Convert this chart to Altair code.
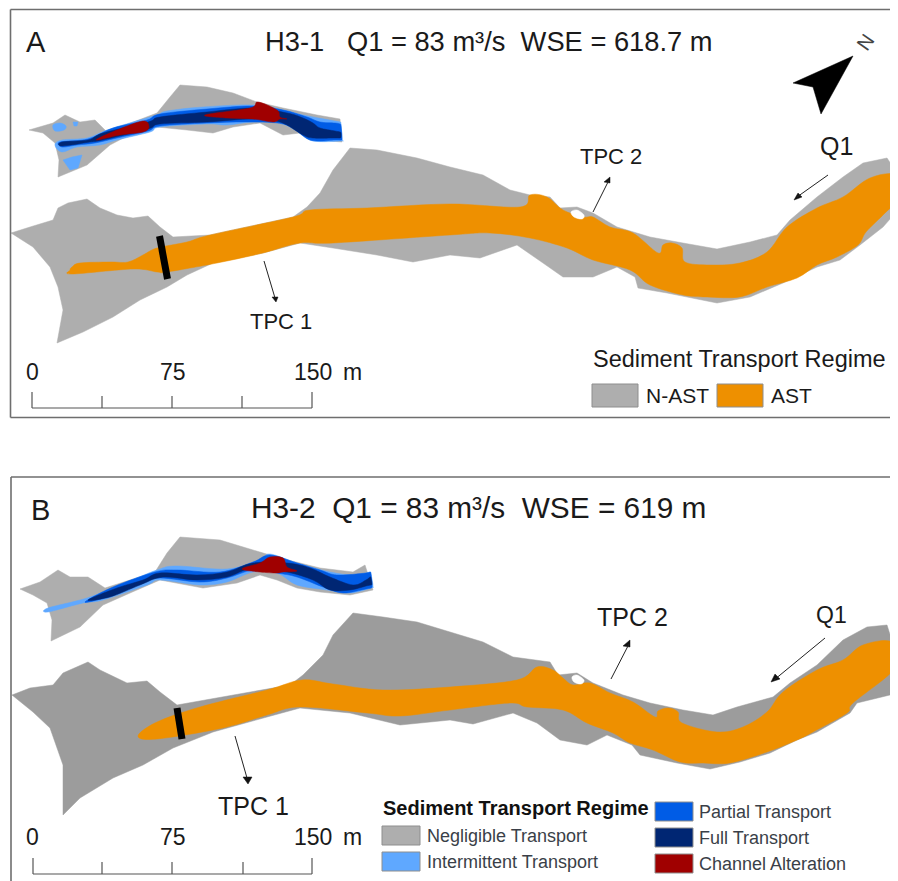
import altair as alt
import pandas as pd

GREY_A = "#aeaeae"; GREY_B = "#9c9c9c"; ORANGE = "#ee9000"
LIGHT = "#5fa8ff"; BLUE = "#005ce6"; NAVY = "#002673"; RED = "#a00000"

# ---------- Panel A, main reach ----------
a_grey_x = [11,30,53,58,68,87,100,117,133,148,160,173,210,293,307,320,333,350,377,417,450,483,510,530,550,560,577,593,617,650,683,717,750,777,790,817,843,863,887,897,898,883,860,840,817,783,750,717,667,638,635,617,593,563,543,517,480,450,413,377,333,300,263,213,187,167,140,113,83,57,63,58,50,33]
a_grey_y = [233,227,220,208,203,199,208,215,218,216,227,237,235,217,207,193,170,148,150,158,167,175,190,195,197,208,207,213,227,237,243,249,242,235,220,197,177,163,158,173,210,227,245,260,267,283,297,303,293,288,277,267,277,277,263,245,258,255,262,255,248,243,253,263,275,287,300,317,332,343,310,287,267,247]
a_orange_x = [70,72,80,110,128,143,157,187,210,293,310,367,450,520,530,547,563,583,593,610,633,658,663,672,682,685,710,740,767,787,817,843,870,897,898,883,866,858,837,817,797,767,740,707,683,650,630,593,567,530,490,450,333,300,263,217,167,157,133,72]
a_orange_y = [270,267,263,262,262,255,248,242,235,217,210,208,204,207,195,197,210,217,217,227,233,253,245,243,248,262,265,263,252,227,208,197,178,175,198,215,232,245,257,265,278,287,297,297,295,285,270,260,248,238,233,235,243,243,253,263,272,272,269,274]
a_hole_x = [571,577,584,582,574]
a_hole_y = [212,210,215,219,217]
a_bar = [159.5,236,167.5,279]

# ---------- Panel A, inset ----------
am_grey_x = [29,53,65,80,95,107,157,170,180,207,233,257,283,317,340,342,317,300,283,260,233,213,187,157,133,110,87,58,59,55,43]
am_grey_y = [130,123,115,122,120,132,113,97,85,87,93,102,108,115,119,142,140,133,135,123,127,133,130,127,133,145,165,177,160,143,133]
am_light_x = [55,62,87,107,133,157,167,203,253,283,303,335,340,341,342,341,313,300,280,253,227,207,160,150,117,100,77,62]
am_light_y = [145,140,138,130,122,115,111,107,105,110,115,121,122,124,139,141,141,133,123,122,125,124,127,132,140,145,147,152]
am_patch1_x = [53,60,66,64,55]
am_patch1_y = [125,123,126,130,131]
am_patch2_x = [63,72,82,78,70]
am_patch2_y = [160,157,155,168,170]
am_patch3_x = [73,78,77,74]
am_patch3_y = [122,122,126,126]
am_blue_x = [60,88,113,147,160,207,253,283,307,320,335,340,341,342,341,335,310,287,253,207,160,148,117,95,77,62]
am_blue_y = [142,139,128,120,114,109,106,110,117,122,123,124,126,138,140,140,140,125,122,123,126,131,138,143,145,147]
am_navy_x = [62,88,103,148,160,207,253,287,303,313,320,335,340,341,341,340,335,313,303,280,253,207,160,148,103,90,62]
am_navy_y = [142,140,133,122,117,112,108,113,118,123,128,131,132,133,137,138,138,138,135,122,119,122,124,129,140,142,146]
am_red1_x = [96,117,143,149,143,120]
am_red1_y = [140,130,121,127,132,135]
am_red2_x = [205,250,258,277,280,287,280,273,253,227]
am_red2_y = [115,108,102,110,117,119,119,122,119,118]

# ---------- Panel B, main reach ----------
b_grey_x = [12,30,53,63,88,100,127,147,160,177,290,303,323,333,353,383,417,450,483,513,550,558,577,593,623,650,683,713,737,773,790,817,843,867,887,897,898,857,850,817,797,770,740,710,677,640,632,607,587,560,537,513,473,450,400,350,300,267,213,173,143,113,80,63,63,50,33]
b_grey_y = [695,688,685,673,662,670,683,681,692,705,685,675,655,635,613,617,622,632,642,657,662,675,673,683,695,703,710,715,707,697,683,665,640,627,625,657,693,703,713,732,740,753,762,769,763,755,745,735,745,740,723,713,724,720,725,713,708,717,732,748,765,778,798,815,765,728,712]
b_orange_x = [138,157,200,267,302,333,383,450,517,537,553,563,573,590,610,633,655,658,668,678,682,717,743,767,783,817,843,863,892,896,853,847,813,797,767,730,703,680,653,630,613,587,563,527,510,450,400,367,300,267,223,157]
b_orange_y = [736,722,707,690,680,684,690,687,680,667,670,678,685,683,693,702,717,711,708,712,723,732,727,712,692,670,660,645,642,667,703,713,732,740,752,763,763,762,750,743,733,723,710,707,703,710,716,713,707,715,728,739]
b_hole_x = [572,577,584,581,574]
b_hole_y = [677,675,680,684,682]
b_bar = [177,708,182,739]

# ---------- Panel B, inset ----------
bm_grey_x = [20,40,58,70,88,105,155,167,180,220,253,280,320,353,365,373,350,320,297,277,260,237,203,160,130,103,80,51,52,47,33]
bm_grey_y = [589,582,570,577,577,588,572,553,537,540,550,558,568,572,565,590,595,592,588,580,575,583,588,580,593,605,627,641,620,603,595]
bm_light_x = [48,87,120,157,177,227,260,270,297,330,353,366,370,371,373,371,350,327,297,277,253,227,200,160,147,103,83,48]
bm_light_y = [608,598,585,570,566,569,560,554,563,572,575,573,572,574,586,588,593,590,585,573,572,582,585,580,585,600,603,612]
bm_blue_x = [85,113,155,177,220,253,270,297,320,337,366,370,371,372,371,366,343,323,297,277,253,227,200,160,143,107]
bm_blue_y = [602,587,572,570,572,562,555,563,570,575,573,572,574,586,588,589,593,587,577,573,570,578,582,578,583,597]
bm_navy_x = [88,117,143,160,197,227,253,287,310,330,353,366,370,371,372,371,366,350,330,313,287,253,227,197,163,140,110]
bm_navy_y = [600,588,580,573,575,572,563,563,568,577,585,580,577,578,584,585,586,590,590,580,572,568,577,580,577,585,597]
bm_red_x = [242,260,270,283,287,297,283,277,260]
bm_red_y = [569,563,557,558,567,571,572,573,572]

# ---------- North arrow and small arrowheads ----------
north_x = [853,793,813,821]
north_y = [56,83,87,114]
heads = [
    ([276,272,278],[302,297,297]),
    ([610,604,610],[177,182,183]),
    ([794,798,802],[200,193,197]),
    ([248,243,252],[784,777,777]),
    ([630,623,630],[640,646,647]),
    ([771,775,780],[682,674,679]),
]
arrow_x1 = [264,593,828,235,611,825]
arrow_y1 = [261,212,175,736,679,638]
arrow_x2 = [275,609,797,247,629,774]
arrow_y2 = [298,180,197,778,644,680]

# ---------- Frame lines ----------
frame_x1 = [10.5,10.5,10.5,11,11]
frame_y1 = [9.5,417.5,9.5,477,477]
frame_x2 = [898,898,10.5,898,11]
frame_y2 = [9.5,417.5,417.5,477,881]

# ---------- Scale bars ----------
bar_x1 = [32,32,102,172,242,312, 33,33,102,172,243,312]
bar_y1 = [408,392,396,396,396,392, 874,858,862,862,862,858]
bar_x2 = [312,32,102,172,242,312, 312,33,102,172,243,312]
bar_y2 = [408,408,408,408,408,408, 874,874,874,874,874,874]

# ---------- Legend swatches ----------
sw_x1 = [592,717, 382,382,655,655,655]
sw_x2 = [638,763, 420,420,693,693,693]
sw_y1 = [384,384, 826,852,802,828,854]
sw_y2 = [407,407, 845,871,821,847,873]
sw_col = [GREY_A,ORANGE,GREY_A,LIGHT,BLUE,NAVY,RED]

# ---------- Texts ----------
NB = "\u00a0"
t_text = ["A",f"H3-1{NB}{NB}{NB}Q1 = 83 m³/s{NB}{NB}WSE = 618.7 m","TPC 1","TPC 2","Q1","0","75","150","m",
          "Sediment Transport Regime","N-AST","AST",
          "B",f"H3-2{NB}{NB}Q1 = 83 m³/s{NB}{NB}WSE = 619 m","TPC 1","TPC 2","Q1","0","75","150","m"]
t_x = [26,265,250,580,820,26,160,294,343,593,646,771,31,251,218,597,816,26,160,294,343]
t_y = [52,51,329,164,155,380,380,380,380,367,403,403,520,518,815,626,623,845,845,845,845]
t_s = [29,27.3,22,22,25,23,23,23,23,23.5,21,21,29,29.8,25,25,23,23,23,23,23]
l_text = ["Negligible Transport","Intermittent Transport","Partial Transport","Full Transport","Channel Alteration"]
l_x = [427,427,699,699,699]
l_y = [842,868,818,844,870]
l_s = [18,18,18,18,18]

FONT = "Liberation Sans"
X = alt.X("x:Q", axis=None, scale=alt.Scale(domain=[8,890], nice=False, zero=False))
Y = alt.Y("y:Q", axis=None, scale=alt.Scale(domain=[881,8], nice=False, zero=False))

def poly(xs, ys, color, smooth=False):
    d = pd.DataFrame({"x": xs, "y": ys, "i": range(len(xs))})
    mk = alt.MarkDef(type="line", fill=color, stroke=color, strokeWidth=0.5, clip=True,
                     interpolate="cardinal-closed" if smooth else "linear-closed")
    return alt.Chart(d, mark=mk).encode(x=X, y=Y, order=alt.Order("i:Q"))

def rules(x1, y1, x2, y2, color, width):
    d = pd.DataFrame({"x": x1, "y": y1, "x2": x2, "y2": y2})
    return alt.Chart(d).mark_rule(color=color, strokeWidth=width, clip=True).encode(
        x=X, y=Y, x2="x2:Q", y2="y2:Q")

def texts(tx, xs, ys, ss, color, **kw):
    d = pd.DataFrame({"x": xs, "y": ys, "t": tx, "s": ss})
    return alt.Chart(d).mark_text(font=FONT, align="left", baseline="alphabetic", color=color, **kw).encode(
        x=X, y=Y, text="t:N", size=alt.Size("s:Q", scale=None, legend=None))

layers = [
    poly(a_grey_x, a_grey_y, GREY_A), poly(a_orange_x, a_orange_y, ORANGE, True), poly(a_hole_x, a_hole_y, "#ffffff", True),
    rules([a_bar[0]],[a_bar[1]],[a_bar[2]],[a_bar[3]], "#000000", 7),
    poly(am_grey_x, am_grey_y, GREY_A), poly(am_light_x, am_light_y, LIGHT, True),
    poly(am_patch1_x, am_patch1_y, LIGHT, True), poly(am_patch2_x, am_patch2_y, LIGHT), poly(am_patch3_x, am_patch3_y, LIGHT),
    poly(am_blue_x, am_blue_y, BLUE, True), poly(am_navy_x, am_navy_y, NAVY, True),
    poly(am_red1_x, am_red1_y, RED, True), poly(am_red2_x, am_red2_y, RED, True),
    poly(b_grey_x, b_grey_y, GREY_B), poly(b_orange_x, b_orange_y, ORANGE, True), poly(b_hole_x, b_hole_y, "#ffffff", True),
    rules([b_bar[0]],[b_bar[1]],[b_bar[2]],[b_bar[3]], "#000000", 7),
    poly(bm_grey_x, bm_grey_y, GREY_A), poly(bm_light_x, bm_light_y, LIGHT, True),
    poly(bm_blue_x, bm_blue_y, BLUE, True), poly(bm_navy_x, bm_navy_y, NAVY, True), poly(bm_red_x, bm_red_y, RED, True),
    poly(north_x, north_y, "#000000"),
]
layers += [poly(hx, hy, "#111111") for hx, hy in heads]
layers += [
    rules(arrow_x1, arrow_y1, arrow_x2, arrow_y2, "#222222", 1),
    rules(frame_x1, frame_y1, frame_x2, frame_y2, "#6e6e6e", 1.6),
    rules(bar_x1, bar_y1, bar_x2, bar_y2, "#555555", 1.2),
]
sw = pd.DataFrame({"x": sw_x1, "x2": sw_x2, "y": sw_y1, "y2": sw_y2, "c": sw_col})
layers.append(alt.Chart(sw).mark_rect(stroke="#8e8e8e", strokeWidth=1).encode(
    x=X, x2="x2:Q", y=Y, y2="y2:Q", fill=alt.Fill("c:N", scale=None, legend=None)))
layers += [
    texts(t_text, t_x, t_y, t_s, "#1a1a1a"),
    texts(l_text, l_x, l_y, l_s, "#3a3f48"),
    texts(["Sediment Transport Regime"], [383], [815], [20], "#111111", fontWeight="bold"),
    texts(["N"], [867], [52], [20], "#444444", angle=305, fontWeight="normal"),
]

chart = alt.layer(*layers).properties(
    width=882, height=873, padding=0,
    autosize=alt.AutoSizeParams(type="none"),
    background="#ffffff",
).configure_view(stroke=None)

chart.save("out.html", embed_options={"renderer": "svg", "actions": False})
